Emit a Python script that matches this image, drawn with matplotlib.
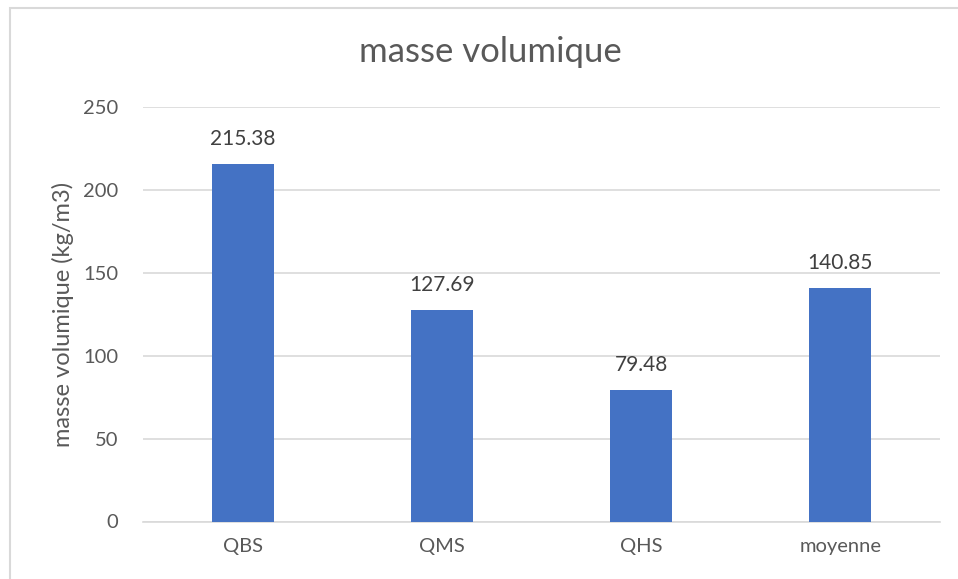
import matplotlib
matplotlib.use("Agg")
import matplotlib.pyplot as plt
from matplotlib.patches import Rectangle

categories = ["QBS", "QMS", "QHS", "moyenne"]
values = [215.38, 127.69, 79.48, 140.85]
labels = ["215.38", "127.69", "79.48", "140.85"]
yticks = [0, 50, 100, 150, 200, 250]

plt.rcParams['font.family'] = ['Lato', 'DejaVu Sans']
txt = '#595959'

fig = plt.figure(figsize=(9.58, 5.79), dpi=100)
fig.patches.append(Rectangle((10/958, -0.1), 1.2, 1 - 8/579 + 0.1, transform=fig.transFigure,
                             fill=False, edgecolor='#d9d9d9', linewidth=1.5))
ax = fig.add_axes([143/958, 1 - 521.5/579, 797/958, (521.5 - 107)/579])
x = range(len(categories))
ax.bar(x, values, width=0.31, color='#4472c4', zorder=3)
for xi, v, l in zip(x, values, labels):
    ax.text(xi, v + 9, l, ha='center', va='bottom', fontsize=15, color='#404040')
ax.set_xlim(-0.5, len(categories) - 0.5)
ax.set_ylim(0, 250)
ax.set_yticks(yticks)
ax.set_xticks(list(x))
ax.set_xticklabels(categories)
ax.yaxis.grid(True, color='#d9d9d9', linewidth=1.2, zorder=0)
for s in ['top', 'right', 'left']:
    ax.spines[s].set_visible(False)
ax.spines['bottom'].set_color('#d9d9d9')
ax.spines['bottom'].set_linewidth(1.2)
ax.tick_params(length=0, labelsize=14.5, labelcolor=txt)
ax.tick_params(axis='y', pad=18)
ax.tick_params(axis='x', pad=12)
ax.set_ylabel("masse volumique (kg/m3)", fontsize=17, color=txt, labelpad=6)
fig.text(490/958, 1 - 52/579, "masse volumique", ha='center', va='center', fontsize=25, color=txt)
fig.savefig("out.png", dpi=100)
